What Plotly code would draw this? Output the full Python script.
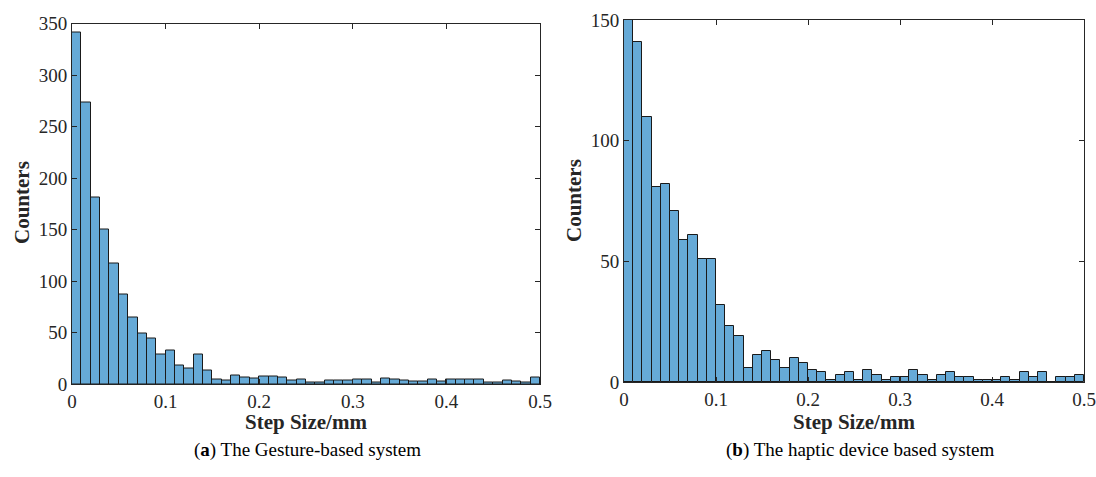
import plotly.graph_objects as go

bin_width = 0.01
bin_starts = [round(i * bin_width, 2) for i in range(50)]

gesture_counts = [341, 273, 181, 150, 117, 87, 65, 49, 44, 29,
                  33, 18, 15, 29, 13, 4, 3, 8, 6, 5,
                  7, 7, 6, 3, 4, 1, 1, 3, 3, 3,
                  4, 4, 1, 5, 4, 3, 2, 2, 4, 2,
                  4, 4, 4, 4, 1, 1, 3, 2, 1, 6]

haptic_counts = [150, 141, 110, 81, 82, 71, 59, 61, 51, 51,
                 32, 23, 19, 6, 11, 13, 9, 6, 10, 8,
                 5, 4, 1, 3, 4, 1, 5, 3, 1, 2,
                 2, 5, 3, 1, 3, 4, 2, 2, 1, 1,
                 1, 2, 1, 4, 2, 4, 0, 2, 2, 3]

x_ticks = [0, 0.1, 0.2, 0.3, 0.4, 0.5]
x_tick_text = ["0", "0.1", "0.2", "0.3", "0.4", "0.5"]
left_y_ticks = [0, 50, 100, 150, 200, 250, 300, 350]
right_y_ticks = [0, 50, 100, 150]

x_title = "Step Size/mm"
y_title = "Counters"
captions = ["(<b>a</b>) The Gesture-based system", "(<b>b</b>) The haptic device based system"]

W, H = 1096, 477
bar_color = "#66AAD7"
tick_font = dict(family="Liberation Serif", size=19, color="#262626")

fig = go.Figure()
fig.add_trace(go.Bar(x=bin_starts, y=gesture_counts, width=bin_width, offset=0,
                     marker=dict(color=bar_color, line=dict(color="#1a1a1a", width=1)),
                     xaxis="x", yaxis="y", showlegend=False))
fig.add_trace(go.Bar(x=bin_starts, y=haptic_counts, width=bin_width, offset=0,
                     marker=dict(color=bar_color, line=dict(color="#1a1a1a", width=1)),
                     xaxis="x2", yaxis="y2", showlegend=False))

def xa(domain, anchor):
    return dict(domain=domain, anchor=anchor, range=[0, 0.5], tickvals=x_ticks, ticktext=x_tick_text,
                ticks="inside", ticklen=5, tickwidth=1, tickcolor="#262626",
                showline=True, linecolor="#262626", linewidth=1, mirror="ticks",
                showgrid=False, zeroline=False, tickfont=tick_font, automargin=False,
                tickprefix="<b>", ticksuffix="</b>")

def ya(domain, anchor, top, vals):
    return dict(domain=domain, anchor=anchor, range=[0, top], tickvals=vals,
                ticks="inside", ticklen=5, tickwidth=1, tickcolor="#262626",
                showline=True, linecolor="#262626", linewidth=1, mirror="ticks",
                showgrid=False, zeroline=False, tickfont=tick_font, automargin=False,
                tickprefix="<b>", ticksuffix="</b>")

lx = [72 / W, 540 / W]
rx = [624 / W, 1084 / W]
ly = [1 - 384 / H, 1 - 23.5 / H]
ry = [1 - 382 / H, 1 - 20 / H]

fig.update_layout(
    width=W, height=H,
    margin=dict(l=0, r=0, t=0, b=0),
    paper_bgcolor="white", plot_bgcolor="white",
    bargap=0,
    xaxis=xa(lx, "y"), yaxis=ya(ly, "x", 350, left_y_ticks),
    xaxis2=xa(rx, "y2"), yaxis2=ya(ry, "x2", 150, right_y_ticks),
)

title_font = dict(family="Liberation Serif", size=21, color="#262626")
cap_font = dict(family="Liberation Serif", size=19, color="black")
ann = []
ann.append(dict(text="<b>%s</b>" % x_title, x=(lx[0] + lx[1]) / 2, y=1 - 422 / H, xref="paper", yref="paper",
                showarrow=False, font=title_font, xanchor="center", yanchor="middle"))
ann.append(dict(text="<b>%s</b>" % x_title, x=(rx[0] + rx[1]) / 2, y=1 - 422 / H, xref="paper", yref="paper",
                showarrow=False, font=title_font, xanchor="center", yanchor="middle"))
ann.append(dict(text="<b>%s</b>" % y_title, x=22 / W, y=1 - 203 / H, xref="paper", yref="paper",
                showarrow=False, font=title_font, textangle=-90, xanchor="center", yanchor="middle"))
ann.append(dict(text="<b>%s</b>" % y_title, x=574 / W, y=1 - 201 / H, xref="paper", yref="paper",
                showarrow=False, font=title_font, textangle=-90, xanchor="center", yanchor="middle"))
ann.append(dict(text=captions[0], x=307 / W, y=1 - 450 / H, xref="paper", yref="paper",
                showarrow=False, font=cap_font, xanchor="center", yanchor="middle"))
ann.append(dict(text=captions[1], x=860 / W, y=1 - 450 / H, xref="paper", yref="paper",
                showarrow=False, font=cap_font, xanchor="center", yanchor="middle"))
fig.update_layout(annotations=ann)

fig.write_html("out.html")
